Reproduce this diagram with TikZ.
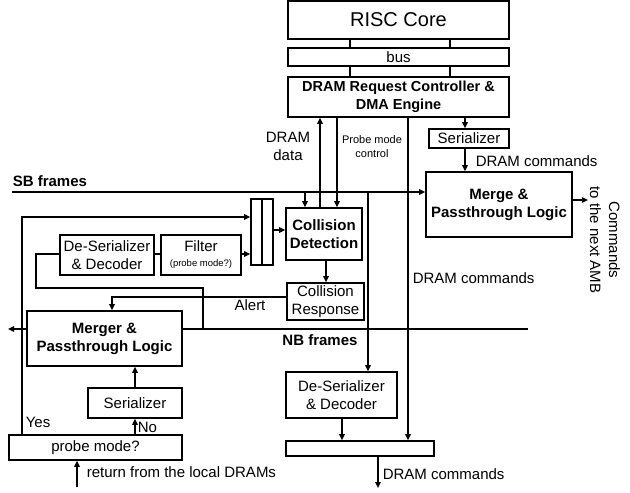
\documentclass[tikz,border=0pt]{standalone}
\usepackage{fontspec}
\setmainfont{Liberation Sans}
\usetikzlibrary{arrows.meta,calc}
\newcommand\fsz[2]{\fontsize{#1}{#2}\selectfont}
\begin{document}
\begin{tikzpicture}[x=1pt,y=-1pt, line width=1.6pt,
  box/.style={draw, line width=1.6pt, inner sep=0pt, align=center, font=\fsz{15}{18}},
  bbox/.style={box, font=\bfseries\fsz{15}{18}},
  arr/.style={-{Triangle[length=6pt,width=5.5pt]}},
  lbl/.style={inner sep=0pt, font=\fsz{15}{18}, align=center}]
\useasboundingbox (0,0) rectangle (630,493);
% boxes
\node[box, minimum width=221pt, minimum height=38pt, font=\fsz{20}{24}] (risc) at (398.5,20) {RISC Core};
\node[box, minimum width=221pt, minimum height=18pt] (bus) at (398.5,57) {bus};
\node[bbox, minimum width=221pt, minimum height=40pt, font=\bfseries\fsz{14.5}{18}] (drc) at (398.5,97) {DRAM Request Controller \&\\DMA Engine};
\node[box, minimum width=80pt, minimum height=19pt] (ser1) at (469,138.5) {Serializer};
\node[bbox, minimum width=146pt, minimum height=65pt] (mpl) at (499,204.5) {Merge \&\\Passthrough Logic};
\node[bbox, minimum width=76pt, minimum height=52pt] (cd) at (324,234) {Collision\\Detection};
\node[box, minimum width=77pt, minimum height=37pt] (cr) at (325.5,301.5) {Collision\\Response};
\node[box, minimum width=11pt, minimum height=66pt] (rega) at (256.5,232) {};
\node[box, minimum width=11pt, minimum height=66pt] (regb) at (267.5,232) {};
\node[box, minimum width=94pt, minimum height=40pt] (ds1) at (107,255) {De-Serializer\\\& Decoder};
\node[box, minimum width=80pt, minimum height=40pt] (filt) at (201,255) {Filter\\[-3pt]{\fsz{9.5}{11}(probe mode?)}};
\node[bbox, minimum width=155pt, minimum height=55pt] (merger) at (104.5,338.5) {Merger \&\\Passthrough Logic};
\node[box, minimum width=94pt, minimum height=30pt] (ser2) at (135,403) {Serializer};
\node[box, minimum width=173pt, minimum height=25pt] (probe) at (95.5,447.5) {probe mode?};
\node[box, minimum width=111pt, minimum height=46pt] (ds2) at (341.5,395) {De-Serializer\\\& Decoder};
\node[box, minimum width=148pt, minimum height=15pt] (bar) at (360,448.5) {};
% top connectors
\coordinate (ca) at (350,0); \coordinate (cb) at (450,0);
\draw (risc.south -| ca) -- (bus.north -| ca);
\draw (risc.south -| cb) -- (bus.north -| cb);
\draw (bus.south -| ca) -- (drc.north -| ca);
\draw (bus.south -| cb) -- (drc.north -| cb);
\coordinate (cser) at (465,0);
\draw[arr] (drc.south -| cser) -- (ser1.north -| cser);
\draw[arr] (ser1.south -| cser) -- (mpl.north -| cser);
\node[lbl, anchor=west] (lcmd1) at (475,161) {DRAM commands};
\coordinate (cdata) at (320,0);
\draw[arr] (cd.north -| cdata) -- (drc.south -| cdata);
\node[lbl] (ldata) at (288,146) {DRAM\\data};
\coordinate (cpm) at (337,0);
\draw[arr] (drc.south -| cpm) -- (cd.north -| cpm);
\node[lbl, font=\fsz{11}{14}] (lpm) at (372,147) {Probe mode\\control};
\coordinate (ccmd) at (408,0);
\draw[arr] (drc.south -| ccmd) -- (bar.north -| ccmd);
\node[lbl, anchor=west] (lcmd2) at (412,278) {DRAM commands};
% SB frames
\coordinate (sbL) at (12,192);
\node[lbl, anchor=west, font=\bfseries\fsz{15}{18}] (lsb) at (12,181) {SB frames};
\draw[arr] (sbL) -- (sbL -| mpl.west);
\coordinate (sb1) at (305,192);
\draw[arr] (sb1) -- (cd.north -| sb1);
\coordinate (sb2) at (368,192);
\draw[arr] (sb2) -- (ds2.north -| sb2);
\coordinate (mout) at (588,200);
\draw[arr] (mpl.east |- mout) -- (mout);
\node[lbl, rotate=-90, font=\fsz{15}{19}] (lamb) at (605,240) {Commands\\to the next AMB};
% register and filter
\coordinate (rc) at (280,230);
\draw[arr] (regb.east |- rc) -- (cd.west |- rc);
\coordinate (fy) at (0,254);
\draw (ds1.east |- fy) -- (filt.west |- fy);
\draw[arr] (filt.east |- fy) -- (rega.west |- fy);
% yes path
\coordinate (yx) at (22,217);
\draw[arr] (probe.north -| yx) -- (yx) -- (rega.west |- yx);
\node[lbl, anchor=west] (lyes) at (25,422) {Yes};
% NB frames
\coordinate (nby) at (8,329);
\draw[arr] (merger.west |- nby) -- (nby);
\coordinate (nbR) at (528,329);
\draw (merger.east |- nbR) -- (nbR);
\node[lbl, font=\bfseries\fsz{15}{18}] (lnb) at (320,340) {NB frames};
% loop into left de-serializer
\coordinate (lp1) at (36,288); \coordinate (lp2) at (203,329);
\draw (ds1.west |- fy) -| (lp1) -- (lp1 -| lp2) -- (lp2);
% alert
\coordinate (al) at (112,297);
\draw[arr] (cr.west |- al) -- (al) -- (merger.north -| al);
\node[lbl] (lal) at (250,305) {Alert};
\coordinate (ccr) at (326,0);
\draw[arr] (cd.south -| ccr) -- (cr.north -| ccr);
% bottom left
\draw[arr] (ser2.north) -- (merger.south -| ser2.north);
\draw[arr] (probe.north -| ser2.south) -- (ser2.south);
\node[lbl, anchor=west] (lno) at (137,427) {No};
\coordinate (rin) at (77,487);
\draw[arr] (rin) -- (probe.south -| rin);
\node[lbl, anchor=west] (lret) at (86,472) {return from the local DRAMs};
% bottom right
\coordinate (cds) at (342,0);
\draw[arr] (ds2.south -| cds) -- (bar.north -| cds);
\coordinate (cout) at (378,488);
\draw[arr] (bar.south -| cout) -- (cout);
\node[lbl, anchor=west] (lcmd3) at (382,474) {DRAM commands};
\end{tikzpicture}
\end{document}
